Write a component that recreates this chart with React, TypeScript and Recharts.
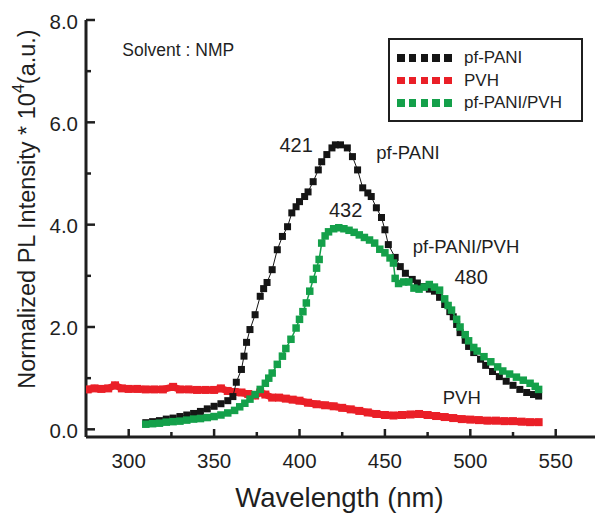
import React from 'react';
import { ScatterChart, Scatter, XAxis, YAxis, Legend, ReferenceDot, Label } from 'recharts';

const FONT = '"Liberation Sans", Arial, Helvetica, sans-serif';
const INK = '#1f1f1f';
const BLACK = '#151515';
const RED = '#ea1f27';
const GREEN = '#14a04a';

// pf-PANI (black squares)
const pfPaniWl = [310, 314, 318, 322, 326, 330, 334, 338, 342, 346, 350, 354, 358, 361, 363, 366, 367.5, 369, 371, 374, 377, 379, 381, 384, 387, 390, 393, 395.5, 398, 400, 403, 405, 408, 411, 413, 416, 419, 421, 424, 428, 431, 434, 437, 440, 442, 445, 448, 450, 452, 456, 459, 462, 466, 469, 472, 476, 479, 482, 485, 488, 490, 492, 494, 497, 499, 502, 506, 509, 513, 517, 521, 525, 529, 533, 537, 540];
const pfPaniInt = [0.13, 0.15, 0.17, 0.2, 0.22, 0.25, 0.28, 0.31, 0.35, 0.4, 0.45, 0.5, 0.56, 0.64, 0.92, 1.17, 1.43, 1.7, 1.95, 2.24, 2.6, 2.75, 2.87, 3.12, 3.51, 3.77, 3.96, 4.23, 4.35, 4.45, 4.55, 4.64, 4.84, 5.07, 5.23, 5.37, 5.5, 5.56, 5.56, 5.5, 5.33, 5.07, 4.72, 4.62, 4.55, 4.33, 4.14, 3.9, 3.61, 3.36, 3.18, 3.05, 2.93, 2.86, 2.79, 2.74, 2.7, 2.58, 2.44, 2.3, 2.2, 2.05, 1.89, 1.74, 1.62, 1.5, 1.37, 1.25, 1.13, 1.03, 0.94, 0.86, 0.78, 0.72, 0.68, 0.65];

// PVH (red)
const pvhWl = [276, 280, 284, 288, 292, 296, 300, 305, 310, 315, 320, 326, 330, 335, 340, 345, 350, 354, 358, 362, 366, 370, 374, 377, 380, 384, 388, 392, 396, 400, 405, 410, 415, 420, 425, 430, 435, 440, 445, 450, 455, 460, 465, 470, 475, 480, 485, 490, 495, 500, 505, 510, 515, 520, 525, 530, 535, 540];
const pvhInt = [0.78, 0.8, 0.79, 0.8, 0.86, 0.8, 0.79, 0.79, 0.78, 0.78, 0.78, 0.83, 0.78, 0.78, 0.77, 0.77, 0.77, 0.8, 0.75, 0.73, 0.72, 0.69, 0.66, 0.72, 0.68, 0.62, 0.62, 0.6, 0.58, 0.56, 0.52, 0.49, 0.47, 0.45, 0.42, 0.39, 0.36, 0.33, 0.3, 0.28, 0.27, 0.28, 0.29, 0.3, 0.28, 0.26, 0.24, 0.22, 0.2, 0.19, 0.18, 0.17, 0.17, 0.16, 0.16, 0.15, 0.14, 0.14];

// pf-PANI/PVH (green)
const blendWl = [310, 314, 318, 322, 326, 330, 334, 338, 342, 346, 350, 354, 358, 362, 365, 368, 371, 374, 377, 380, 382, 384, 387, 390, 392, 395, 398, 400, 402, 404, 406, 408, 410, 411.5, 413, 415, 417, 420, 423, 426, 429, 432, 435, 438, 441, 444, 447, 450, 453, 455, 456, 458, 461, 464, 467, 470, 473, 476, 479, 482, 485, 487, 489, 492, 494, 497, 499, 502, 504, 508, 512, 516, 519, 523, 527, 531, 535, 538, 540];
const blendInt = [0.1, 0.11, 0.12, 0.14, 0.15, 0.16, 0.18, 0.2, 0.21, 0.23, 0.25, 0.28, 0.32, 0.37, 0.44, 0.51, 0.59, 0.68, 0.78, 0.9, 1.0, 1.1, 1.27, 1.43, 1.58, 1.76, 1.98, 2.15, 2.3, 2.47, 2.7, 2.93, 3.15, 3.32, 3.64, 3.78, 3.86, 3.92, 3.94, 3.92, 3.89, 3.85, 3.8, 3.75, 3.7, 3.64, 3.52, 3.45, 3.35, 3.25, 2.95, 2.85, 2.88, 2.88, 2.76, 2.74, 2.78, 2.83, 2.78, 2.72, 2.55, 2.42, 2.33, 2.15, 2.0, 1.85, 1.73, 1.6, 1.53, 1.42, 1.32, 1.22, 1.14, 1.08, 1.02, 0.96, 0.9, 0.84, 0.78];

const xTicks = [300, 325, 350, 375, 400, 425, 450, 475, 500, 525, 550];
const yTicks = [0, 1, 2, 3, 4, 5, 6, 7, 8];

const legendItems = [
  { name: 'pf-PANI', color: BLACK },
  { name: 'PVH', color: RED },
  { name: 'pf-PANI/PVH', color: GREEN },
];

// peak / curve annotations placed in data space
const notes = [
  { x: 398, y: 5.56, text: '421', size: 20 },
  { x: 463.5, y: 5.42, text: 'pf-PANI', size: 18.5 },
  { x: 427, y: 4.29, text: '432', size: 20 },
  { x: 497.5, y: 3.57, text: 'pf-PANI/PVH', size: 18.5 },
  { x: 500.5, y: 2.97, text: '480', size: 20 },
  { x: 495, y: 0.62, text: 'PVH', size: 18.5 },
  { x: 329, y: 7.41, text: 'Solvent : NMP', size: 17.5 },
];

const toPoints = (xs: number[], ys: number[]) => xs.map((x, i) => ({ x, y: ys[i] }));

const square = (size: number, color: string) => (props: any) => {
  const { cx, cy } = props;
  if (cx == null || cy == null) return <g />;
  return <rect x={cx - size / 2} y={cy - size / 2} width={size} height={size} fill={color} />;
};

const BottomTick = ({ x, y, payload }: any) => {
  const major = payload.value % 50 === 0;
  return (
    <g>
      <line x1={x} x2={x} y1={y} y2={y - (major ? 8 : 5)} stroke={INK} strokeWidth={2.5} />
      {major && (
        <text x={x} y={y + 23} textAnchor="middle" dominantBaseline="central" fontSize={20.5} fontFamily={FONT} fill={INK}>
          {payload.value}
        </text>
      )}
    </g>
  );
};

const TopTick = ({ x, y, payload }: any) => {
  const major = payload.value % 50 === 0;
  return <line x1={x} x2={x} y1={y} y2={y + (major ? 8 : 5)} stroke={INK} strokeWidth={2.5} />;
};

const LeftTick = ({ x, y, payload }: any) => {
  const major = payload.value % 2 === 0;
  return (
    <g>
      <line x1={x} x2={x + (major ? 9 : 5)} y1={y} y2={y} stroke={INK} strokeWidth={2.5} />
      {major && (
        <text x={x - 8} y={y + 1} textAnchor="end" dominantBaseline="central" fontSize={20.5} fontFamily={FONT} fill={INK}>
          {payload.value.toFixed(1)}
        </text>
      )}
    </g>
  );
};

const RightTick = ({ x, y, payload }: any) => {
  const major = payload.value % 2 === 0;
  return <line x1={x} x2={x - (major ? 8 : 5)} y1={y} y2={y} stroke={INK} strokeWidth={2.5} />;
};

const LegendBox = () => (
  <div
    style={{
      width: 195,
      height: 84,
      border: `2px solid ${INK}`,
      boxSizing: 'border-box',
      position: 'relative',
      background: '#fff',
      fontFamily: FONT,
    }}
  >
    {legendItems.map((item, i) => (
      <div key={item.name} style={{ position: 'absolute', left: 7, top: 7 + i * 22.5, height: 22, display: 'flex', alignItems: 'center' }}>
        {[0, 1, 2, 3, 4].map((k) => (
          <span key={k} style={{ display: 'inline-block', width: 7.5, height: 7.5, background: item.color, marginRight: 4.3 }} />
        ))}
        <span style={{ marginLeft: 8, fontSize: 17, color: INK }}>{item.name}</span>
      </div>
    ))}
  </div>
);

export default function App() {
  return (
    <div style={{ position: 'absolute', left: 0, top: 0, background: '#fff' }}>
      <ScatterChart width={598} height={515} margin={{ top: 20, right: 3, bottom: 0, left: 0 }}>
        <XAxis
          xAxisId={0}
          type="number"
          dataKey="x"
          domain={[275, 573]}
          allowDataOverflow
          ticks={xTicks}
          interval={0}
          height={78}
          tickSize={0}
          tickMargin={0}
          tick={<BottomTick />}
          tickLine={false}
          axisLine={{ stroke: INK, strokeWidth: 3 }}
        >
          <Label
            content={(p: any) => (
              <text
                x={p.viewBox.x + p.viewBox.width / 2 - 1}
                y={p.viewBox.y + 70}
                textAnchor="middle"
                fontSize={27.5}
                fontFamily={FONT}
                fill={INK}
              >
                Wavelength (nm)
              </text>
            )}
          />
        </XAxis>
        <XAxis
          xAxisId="top"
          orientation="top"
          type="number"
          dataKey="x"
          domain={[275, 573]}
          allowDataOverflow
          ticks={xTicks}
          interval={0}
          height={0}
          tickSize={0}
          tickMargin={0}
          tick={<TopTick />}
          tickLine={false}
          axisLine={{ stroke: INK, strokeWidth: 2.5 }}
        />
        <YAxis
          yAxisId={0}
          type="number"
          dataKey="y"
          domain={[-0.15, 8]}
          allowDataOverflow
          ticks={yTicks}
          interval={0}
          width={86}
          tickSize={0}
          tickMargin={0}
          tick={<LeftTick />}
          tickLine={false}
          axisLine={{ stroke: INK, strokeWidth: 3 }}
        >
          <Label
            content={(p: any) => (
              <text
                x={27}
                y={p.viewBox.y + 189}
                transform={`rotate(-90 27 ${p.viewBox.y + 189})`}
                textAnchor="middle"
                dominantBaseline="central"
                fontSize={23.5}
                fontFamily={FONT}
                fill={INK}
              >
                Normalized PL Intensity * 10
                <tspan fontSize={16} dy={-9}>4</tspan>
                <tspan dy={9}>(a.u.)</tspan>
              </text>
            )}
          />
        </YAxis>
        <YAxis
          yAxisId="right"
          orientation="right"
          type="number"
          dataKey="y"
          domain={[-0.15, 8]}
          allowDataOverflow
          ticks={yTicks}
          interval={0}
          width={0}
          tickSize={0}
          tickMargin={0}
          tick={<RightTick />}
          tickLine={false}
          axisLine={{ stroke: INK, strokeWidth: 2.5 }}
        />

        <Scatter xAxisId="top" yAxisId="right" data={[]} isAnimationActive={false} />

        <Scatter
          name="PVH"
          data={toPoints(pvhWl, pvhInt)}
          fill={RED}
          line={{ stroke: RED, strokeWidth: 7 }}
          shape={square(8, RED)}
          isAnimationActive={false}
        />
        <Scatter
          name="pf-PANI"
          data={toPoints(pfPaniWl, pfPaniInt)}
          fill={BLACK}
          line={{ stroke: BLACK, strokeWidth: 1 }}
          shape={square(7, BLACK)}
          isAnimationActive={false}
        />
        <Scatter
          name="pf-PANI/PVH"
          data={toPoints(blendWl, blendInt)}
          fill={GREEN}
          line={{ stroke: GREEN, strokeWidth: 1.5 }}
          shape={square(7.5, GREEN)}
          isAnimationActive={false}
        />

        {notes.map((n) => (
          <ReferenceDot
            key={n.text}
            x={n.x}
            y={n.y}
            r={0}
            fill="none"
            stroke="none"
            label={{ value: n.text, position: 'center', fontSize: n.size, fill: INK, fontFamily: FONT }}
          />
        ))}

        <Legend
          layout="horizontal"
          verticalAlign="middle"
          content={() => <LegendBox />}
          wrapperStyle={{ left: 388, top: 38, width: 195, height: 84 }}
        />
      </ScatterChart>
    </div>
  );
}
